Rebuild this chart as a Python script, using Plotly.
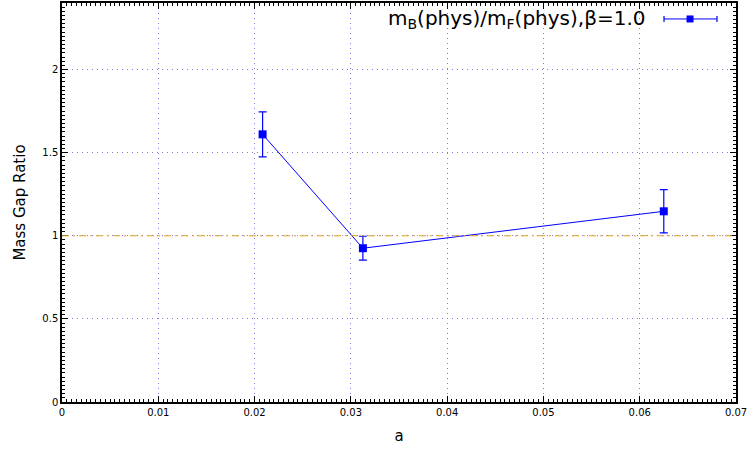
import plotly.graph_objects as go

a_vals = [1/48, 1/32, 1/16]
ratio = [1.61, 0.925, 1.147]
ratio_err = [0.135, 0.072, 0.13]
ref_level = 1.0
x_ticks = [0, 0.01, 0.02, 0.03, 0.04, 0.05, 0.06, 0.07]
y_ticks = [0, 0.5, 1, 1.5, 2]
legend_label = "m<sub>B</sub>(phys)/m<sub>F</sub>(phys),β=1.0"

BLUE = "#0000ff"
GRID = "rgba(110,110,215,0.9)"

fig = go.Figure()
fig.add_trace(go.Scatter(
    x=a_vals, y=ratio, mode="lines+markers", showlegend=False,
    line=dict(color=BLUE, width=1),
    marker=dict(symbol="square", size=8, color=BLUE),
    error_y=dict(type="data", array=ratio_err, color=BLUE, thickness=1.2, width=4),
))
fig.add_hline(y=ref_level, line=dict(color="#e0a020", width=1.2, dash="7px,4px,2px,4px"), layer="above")

# gnuplot-style legend: label followed by sample on the right
lx0, lx1, lxm, ly = 0.8932, 0.9718, 0.9318, 0.96
fig.add_annotation(xref="paper", yref="paper", x=0.8694, y=ly, xanchor="right", yanchor="middle",
                   text=legend_label, showarrow=False, font=dict(size=20, color="black"))
fig.add_shape(type="line", xref="paper", yref="paper", x0=lx0, x1=lx1, y0=ly, y1=ly,
              line=dict(color=BLUE, width=1))
for xe in (lx0, lx1):
    fig.add_shape(type="line", xref="paper", yref="paper", xsizemode="pixel", ysizemode="pixel",
                  xanchor=xe, yanchor=ly, x0=0, x1=0, y0=-3, y1=3, line=dict(color=BLUE, width=1.2))
fig.add_shape(type="rect", xref="paper", yref="paper", xsizemode="pixel", ysizemode="pixel",
              xanchor=lxm, yanchor=ly, x0=-3.5, x1=3.5, y0=-3.5, y1=3.5,
              line=dict(width=0), fillcolor=BLUE)

fig.update_layout(
    width=751, height=449,
    margin=dict(l=62, r=15, t=3, b=47, autoexpand=False),
    paper_bgcolor="white", plot_bgcolor="white",
    font=dict(family="DejaVu Sans", color="black"),
    showlegend=False,
)
fig.update_xaxes(
    range=[0, 0.07], tickvals=x_ticks, ticktext=[str(v) for v in x_ticks],
    ticks="inside", ticklen=6, tickcolor="black", tickfont=dict(size=10),
    showline=True, linecolor="black", linewidth=1.5, mirror="allticks",
    showgrid=True, gridcolor=GRID, griddash="1px,4px", gridwidth=1,
    zeroline=False, automargin=False,
    minor=dict(dtick=0.0005, ticks="inside", ticklen=3, tickcolor="black", showgrid=False),
    title=dict(text="a", font=dict(size=15), standoff=14),
)
fig.update_yaxes(
    range=[0, 2.4], tickvals=y_ticks, ticktext=["0", "0.5", "1", "1.5", "2"],
    ticks="inside", ticklen=6, tickcolor="black", tickfont=dict(size=10),
    showline=True, linecolor="black", linewidth=1.5, mirror="allticks",
    showgrid=True, gridcolor=GRID, griddash="1px,4px", gridwidth=1,
    zeroline=False, automargin=False,
    minor=dict(dtick=0.025, ticks="inside", ticklen=3, tickcolor="black", showgrid=False),
    title=dict(text="Mass Gap Ratio", font=dict(size=15), standoff=13),
)

fig.write_html("out.html", config={"displayModeBar": False},
               post_script="document.body.style.margin='0';")
